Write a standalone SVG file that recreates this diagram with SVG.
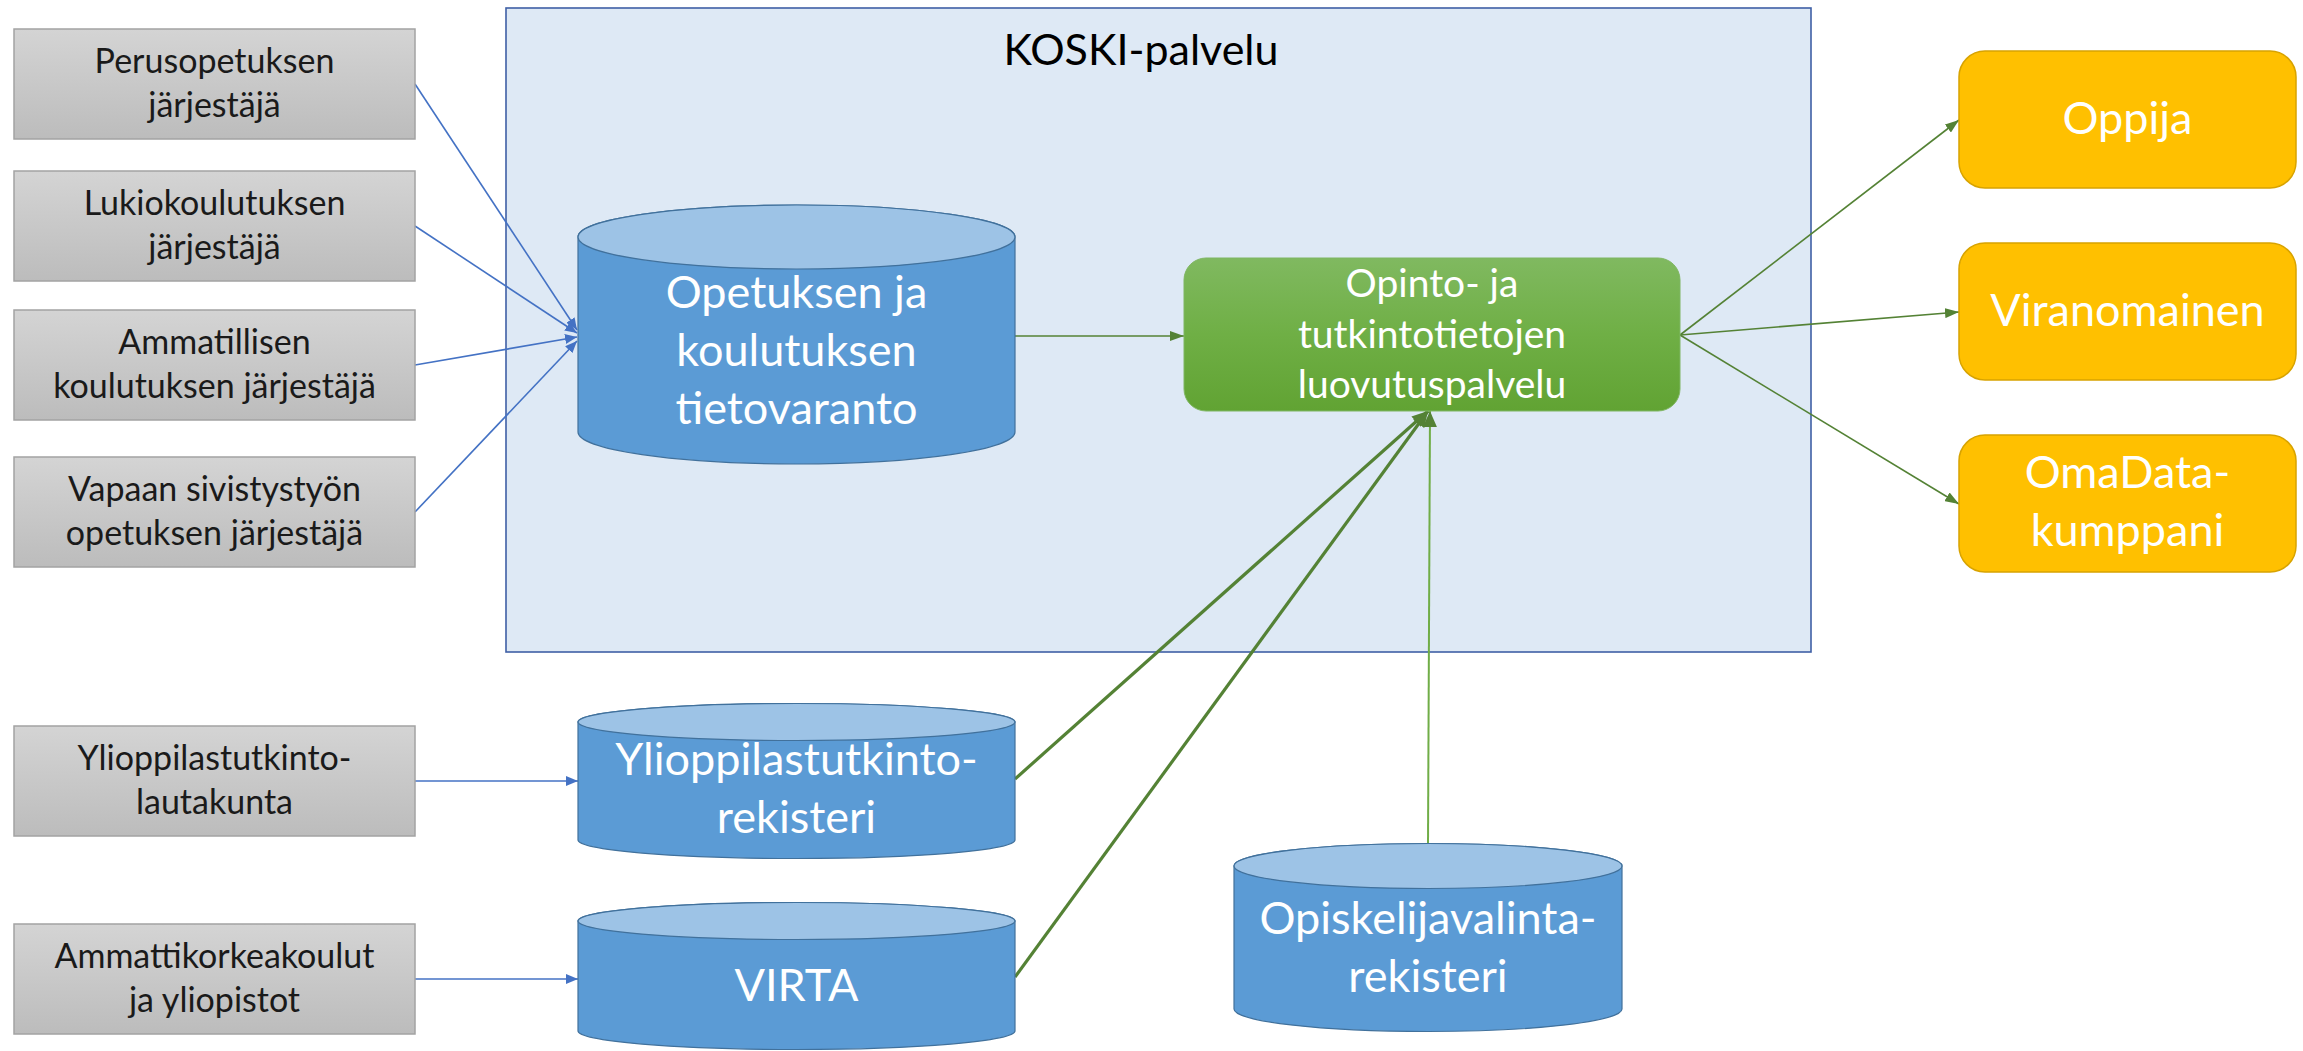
<svg xmlns="http://www.w3.org/2000/svg" width="2303" height="1051" viewBox="0 0 2303 1051">
<style>
text{font-family:Lato,"Liberation Sans",sans-serif;text-anchor:middle}
.gbox{fill:url(#gGray);stroke:#a3a3a3;stroke-width:1.5}
.gt{font-size:34px;fill:#1a1a1a}
.cyl{fill:#5b9bd5;stroke:#41719c;stroke-width:1.2}
.cyltop{fill:#9dc3e6;stroke:#41719c;stroke-width:1.2}
.ct{font-size:45px;fill:#ffffff}
.obox{fill:#ffc000;stroke:#d8a300;stroke-width:1.5}
.ot{font-size:45px;fill:#ffffff}
.blue{stroke:#4472c4;stroke-width:1.6;fill:none;marker-end:url(#mBlue)}
.gthin{stroke:#548235;stroke-width:1.6;fill:none;marker-end:url(#mGreen)}
.gthick{stroke:#548235;stroke-width:3.2;fill:none;marker-end:url(#mGreenBig)}
.gmid{stroke:#70ad47;stroke-width:2;fill:none;marker-end:url(#mGreenBig)}
</style>
<defs>
<linearGradient id="gGray" x1="0" y1="0" x2="0" y2="1">
<stop offset="0" stop-color="#d4d4d4"/>
<stop offset="1" stop-color="#bcbcbc"/>
</linearGradient>
<linearGradient id="gGreen" x1="0" y1="0" x2="0" y2="1">
<stop offset="0" stop-color="#80b960"/>
<stop offset="0.5" stop-color="#6faf45"/>
<stop offset="1" stop-color="#61a333"/>
</linearGradient>
<marker id="mBlue" markerUnits="userSpaceOnUse" viewBox="0 0 12 10" refX="12" refY="5" markerWidth="12" markerHeight="10" orient="auto">
<path d="M0,0 L12,5 L0,10 z" fill="#4472c4"/>
</marker>
<marker id="mGreen" markerUnits="userSpaceOnUse" viewBox="0 0 14 10" refX="14" refY="5" markerWidth="14" markerHeight="10" orient="auto">
<path d="M0,0 L14,5 L0,10 z" fill="#548235"/>
</marker>
<marker id="mGreenBig" markerUnits="userSpaceOnUse" viewBox="0 0 16 14" refX="16" refY="7" markerWidth="16" markerHeight="14" orient="auto">
<path d="M0,0 L16,7 L0,14 z" fill="#548235"/>
</marker>
</defs>
<rect width="2303" height="1051" fill="#ffffff"/>

<g id="koski-palvelu">
<rect x="506" y="8" width="1305" height="644" fill="#dee9f5" stroke="#3f5fa6" stroke-width="1.6"/>
<text x="1141" y="65" style="font-size:43px;fill:#000000">KOSKI-palvelu</text>
</g>

<g id="connectors">
<line class="blue" x1="415" y1="84" x2="577" y2="330"/>
<line class="blue" x1="415" y1="226" x2="577" y2="333"/>
<line class="blue" x1="415" y1="365" x2="577" y2="337"/>
<line class="blue" x1="415" y1="512" x2="577" y2="341"/>
<line class="blue" x1="415" y1="781" x2="578" y2="781"/>
<line class="blue" x1="415" y1="979" x2="578" y2="979"/>
<line class="gthin" x1="1015" y1="336" x2="1184" y2="336"/>
<line class="gthick" x1="1015" y1="779" x2="1428" y2="411"/>
<line class="gthick" x1="1015" y1="977" x2="1428" y2="411"/>
<line class="gmid" x1="1428" y1="844" x2="1430" y2="411"/>
<line class="gthin" x1="1680" y1="335" x2="1959" y2="120"/>
<line class="gthin" x1="1680" y1="335" x2="1959" y2="312"/>
<line class="gthin" x1="1680" y1="335" x2="1959" y2="504"/>
</g>

<g id="perusopetus">
<rect class="gbox" x="14" y="29" width="401" height="110"/>
<text class="gt" x="214.5" y="73">Perusopetuksen</text>
<text class="gt" x="214.5" y="117">järjestäjä</text>
</g>
<g id="lukio">
<rect class="gbox" x="14" y="171" width="401" height="110"/>
<text class="gt" x="214.5" y="215">Lukiokoulutuksen</text>
<text class="gt" x="214.5" y="259">järjestäjä</text>
</g>
<g id="ammatillinen">
<rect class="gbox" x="14" y="310" width="401" height="110"/>
<text class="gt" x="214.5" y="354">Ammatillisen</text>
<text class="gt" x="214.5" y="398">koulutuksen järjestäjä</text>
</g>
<g id="vapaa-sivistystyo">
<rect class="gbox" x="14" y="457" width="401" height="110"/>
<text class="gt" x="214.5" y="501">Vapaan sivistystyön</text>
<text class="gt" x="214.5" y="545">opetuksen järjestäjä</text>
</g>
<g id="ylioppilastutkintolautakunta">
<rect class="gbox" x="14" y="726" width="401" height="110"/>
<text class="gt" x="214.5" y="770">Ylioppilastutkinto-</text>
<text class="gt" x="214.5" y="814">lautakunta</text>
</g>
<g id="korkeakoulut">
<rect class="gbox" x="14" y="924" width="401" height="110"/>
<text class="gt" x="214.5" y="968">Ammattikorkeakoulut</text>
<text class="gt" x="214.5" y="1012">ja yliopistot</text>
</g>

<g id="tietovaranto">
<path class="cyl" d="M578,237 L578,432 A218.5,32 0 0 0 1015,432 L1015,237 A218.5,32 0 0 0 578,237 Z"/>
<ellipse class="cyltop" cx="796.5" cy="237" rx="218.5" ry="32"/>
<text class="ct" x="796.5" y="308">Opetuksen ja</text>
<text class="ct" x="796.5" y="366">koulutuksen</text>
<text class="ct" x="796.5" y="424">tietovaranto</text>
</g>

<g id="luovutuspalvelu">
<rect x="1184" y="258" width="496" height="153" rx="22" fill="url(#gGreen)" stroke="#7fb662" stroke-width="1"/>
<text x="1432" y="297" style="font-size:39px;fill:#ffffff">Opinto- ja</text>
<text x="1432" y="348" style="font-size:39px;fill:#ffffff">tutkintotietojen</text>
<text x="1432" y="398" style="font-size:39px;fill:#ffffff">luovutuspalvelu</text>
</g>

<g id="ylioppilastutkintorekisteri">
<path class="cyl" d="M578,722 L578,840 A218.5,18.5 0 0 0 1015,840 L1015,722 A218.5,18.5 0 0 0 578,722 Z"/>
<ellipse class="cyltop" cx="796.5" cy="722" rx="218.5" ry="18.5"/>
<text class="ct" x="796.5" y="775">Ylioppilastutkinto-</text>
<text class="ct" x="796.5" y="833">rekisteri</text>
</g>

<g id="virta">
<path class="cyl" d="M578,921 L578,1031 A218.5,18.5 0 0 0 1015,1031 L1015,921 A218.5,18.5 0 0 0 578,921 Z"/>
<ellipse class="cyltop" cx="796.5" cy="921" rx="218.5" ry="18.5"/>
<text class="ct" x="796.5" y="1001">VIRTA</text>
</g>

<g id="opiskelijavalintarekisteri">
<path class="cyl" d="M1234,866 L1234,1009 A194,22.5 0 0 0 1622,1009 L1622,866 A194,22.5 0 0 0 1234,866 Z"/>
<ellipse class="cyltop" cx="1428" cy="866" rx="194" ry="22.5"/>
<text class="ct" x="1428" y="934">Opiskelijavalinta-</text>
<text class="ct" x="1428" y="992">rekisteri</text>
</g>

<g id="oppija">
<rect class="obox" x="1959" y="51" width="337" height="137" rx="26"/>
<text class="ot" x="2127.5" y="134">Oppija</text>
</g>
<g id="viranomainen">
<rect class="obox" x="1959" y="243" width="337" height="137" rx="26"/>
<text class="ot" x="2127.5" y="326">Viranomainen</text>
</g>
<g id="omadata">
<rect class="obox" x="1959" y="435" width="337" height="137" rx="26"/>
<text class="ot" x="2127.5" y="488">OmaData-</text>
<text class="ot" x="2127.5" y="546">kumppani</text>
</g>
</svg>
